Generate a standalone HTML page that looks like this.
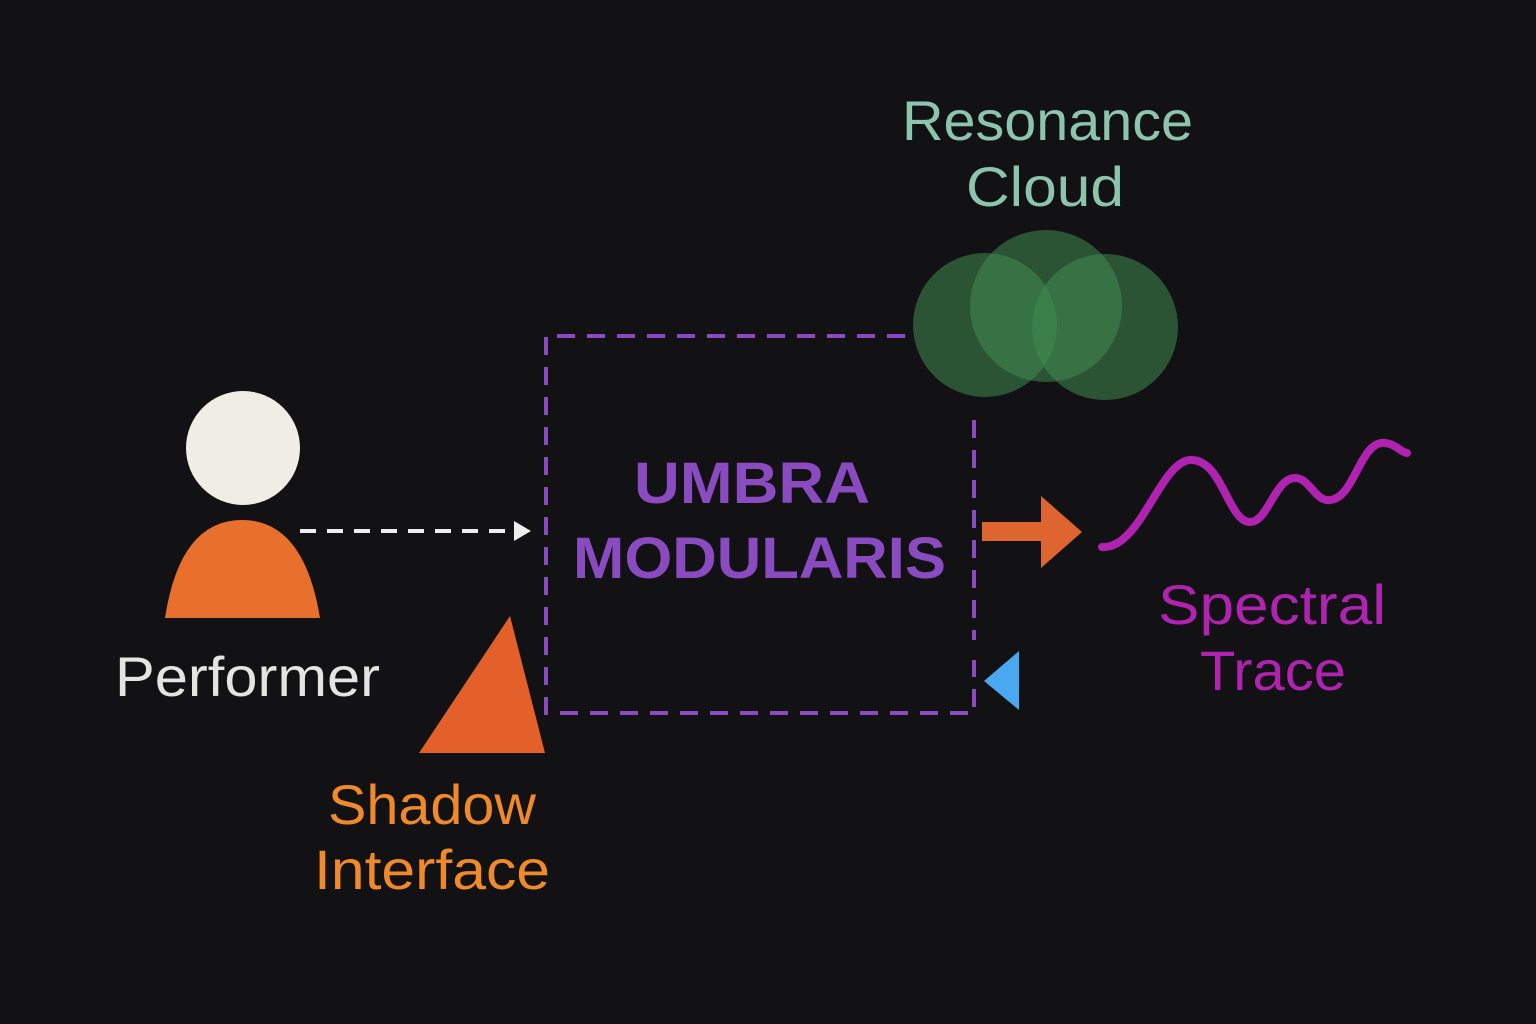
<!DOCTYPE html>
<html><head><meta charset="utf-8"><style>
html,body{margin:0;padding:0;background:#121214;}
svg{display:block}
text{font-family:"Liberation Sans","DejaVu Sans",sans-serif;}
</style></head><body>
<svg width="1536" height="1024" viewBox="0 0 1536 1024" xmlns="http://www.w3.org/2000/svg">
<rect width="1536" height="1024" fill="#121214"/>
<g fill="#3f8a50" fill-opacity="0.55">
<circle cx="985" cy="325" r="72"/>
<circle cx="1046" cy="306" r="76"/>
<circle cx="1105" cy="327" r="73"/>
</g>
<text x="902" y="140" font-size="56" fill="#8cc4ad" textLength="291" lengthAdjust="spacingAndGlyphs">Resonance</text>
<text x="966" y="206" font-size="56" fill="#8cc4ad" textLength="158" lengthAdjust="spacingAndGlyphs">Cloud</text>
<g stroke="#8a4bc0" stroke-width="4" fill="none" stroke-dasharray="18,12">
<path d="M905 336 L546 336 L546 713 L974 713 L974 660"/>
<path d="M974 420 L974 640"/>
</g>
<text x="634" y="503" font-size="58" font-weight="bold" fill="#8a4bc0" textLength="236" lengthAdjust="spacingAndGlyphs">UMBRA</text>
<text x="573" y="578" font-size="58" font-weight="bold" fill="#8a4bc0" textLength="373" lengthAdjust="spacingAndGlyphs">MODULARIS</text>
<circle cx="243" cy="448" r="57" fill="#f0ede4"/>
<path d="M165 618 Q180 520 242 520 Q304 520 320 618 Z" fill="#e9702c"/>
<text x="115" y="696" font-size="56" fill="#e4e4e0" textLength="265" lengthAdjust="spacingAndGlyphs">Performer</text>
<line x1="300" y1="531" x2="515" y2="531" stroke="#eeeeee" stroke-width="4" stroke-dasharray="16,11"/>
<path d="M514 521 L531 531 L514 541 Z" fill="#eeeeee"/>
<path d="M510 616 L545 753 L419 753 Z" fill="#e4602a"/>
<text x="328" y="824" font-size="56" fill="#f08a28" textLength="208" lengthAdjust="spacingAndGlyphs">Shadow</text>
<text x="314" y="889" font-size="56" fill="#f08a28" textLength="236" lengthAdjust="spacingAndGlyphs">Interface</text>
<path d="M982 522 L1041 522 L1041 496 L1082 532 L1041 568 L1041 541 L982 541 Z" fill="#de6530"/>
<path d="M1019 651 L1019 710 L984 681 Z" fill="#4aa8f0"/>
<path d="M1102 547 C1140 550 1160 462 1190 460 C1222 458 1228 522 1250 522 C1268 522 1275 478 1295 478 C1310 478 1315 502 1330 500 C1355 498 1360 440 1385 443 C1396 444 1400 452 1407 453" stroke="#b023b0" stroke-width="8" fill="none" stroke-linecap="round"/>
<text x="1158" y="624" font-size="56" fill="#b023b0" textLength="228" lengthAdjust="spacingAndGlyphs">Spectral</text>
<text x="1200" y="690" font-size="56" fill="#b023b0" textLength="146" lengthAdjust="spacingAndGlyphs">Trace</text>
</svg>
</body></html>
